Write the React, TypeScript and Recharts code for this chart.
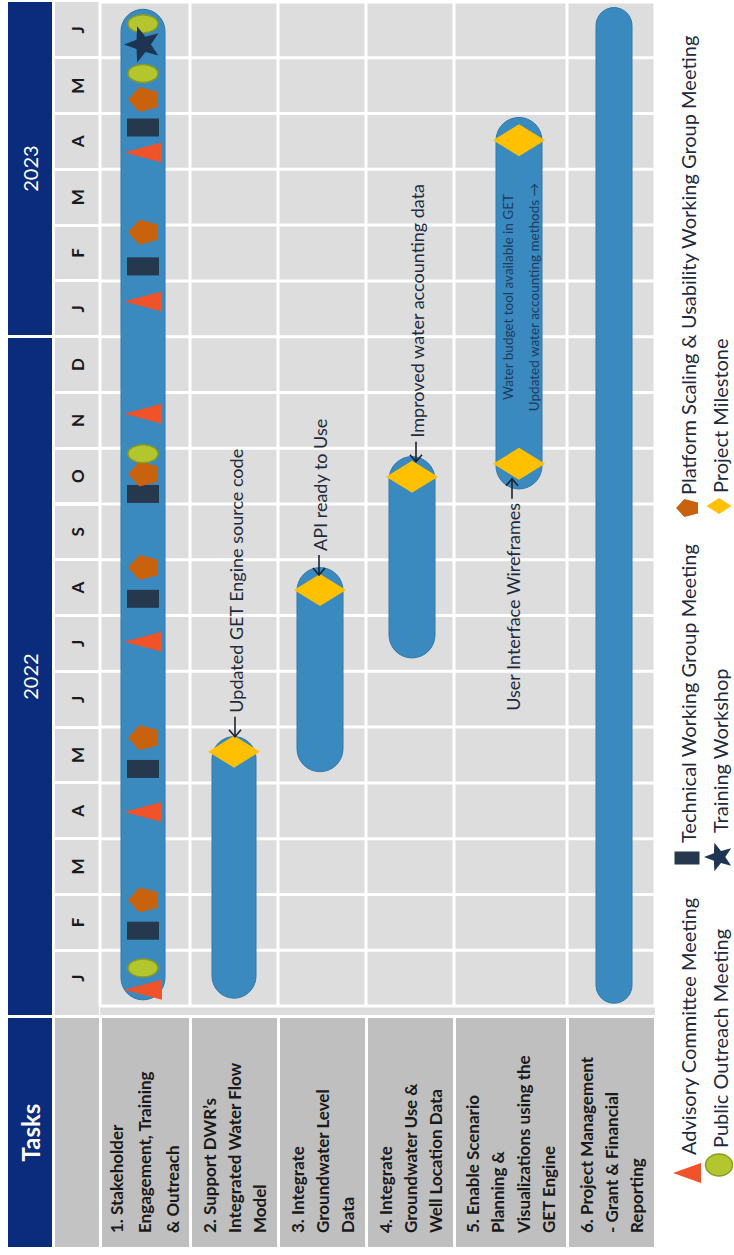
import React from 'react';
import { ComposedChart, Bar, Scatter, XAxis, YAxis, CartesianGrid } from 'recharts';

// ---------------- data ----------------
const months = ['J', 'F', 'M', 'A', 'M', 'J', 'J', 'A', 'S', 'O', 'N', 'D', 'J', 'F', 'M', 'A', 'M', 'J'];
const years = ['2022', '2023'];
const yearMonthCounts = [12, 6];
const taskLabelLines = [
  ['1. Stakeholder', 'Engagement, Training', '& Outreach'],
  ['2. Support DWR\u2019s', 'Integrated Water Flow', 'Model'],
  ['3. Integrate', 'Groundwater Level', 'Data'],
  ['4. Integrate', 'Groundwater Use &', 'Well Location Data'],
  ['5. Enable Scenario', 'Planning &', 'Visualizations using the', 'GET Engine'],
  ['6. Project Management', '- Grant & Financial', 'Reporting'],
];
// bar extents in months since Jan 2022
const barStart = [0.11, 0.14, 4.2, 6.24, 9.27, 0.05];
const barEnd = [17.87, 4.83, 7.86, 9.85, 15.93, 17.9];

// task 1 meetings (months since Jan 2022)
const advisoryMonths = [0.29, 3.48, 6.53, 10.62, 12.63, 15.3];
const technicalMonths = [1.35, 4.25, 7.3, 9.18, 13.26, 15.75];
const platformMonths = [1.9, 4.81, 7.86, 9.54, 13.87, 16.25];
const outreachMonths = [0.68, 9.9, 16.72, 17.61];
const trainingMonths = [17.24];

// milestones
const milestoneTasks = [1, 2, 3, 4, 4];
const milestoneMonths = [4.56, 7.46, 9.49, 9.72, 15.52];

// milestone annotations
const annotationTasks = [1, 2, 3, 4];
const annotationMonths = [4.56, 7.46, 9.49, 9.72];
const annotationTexts = ['Updated GET Engine source code', 'API ready to Use', 'Improved water accounting data', 'User Interface Wireframes'];
const annotationSides = ['right', 'right', 'right', 'left'];

// text written inside the task 5 bar
const innerNoteTask = 4;
const innerNoteMonth = 12.71;
const innerNoteLines = ['Water budget tool available in GET', 'Updated water accounting methods \u2192'];

const legendNames = [
  'Advisory Committee Meeting',
  'Technical Working Group Meeting',
  'Platform Scaling & Usability Working Group Meeting',
  'Public Outreach Meeting',
  'Training Workshop',
  'Project Milestone',
];
const legendKinds = ['triangle', 'rect', 'pentagon', 'ellipse', 'star', 'diamond'];

// ---------------- layout & style ----------------
const W = 1255;
const H = 734;
const PLOT_L = 249;
const PLOT_R = 1253;
const PLOT_T = 100;
const PLOT_B = 655;
const MONTH_W = (PLOT_R - PLOT_L) / months.length;
const rowHeights = [90, 88, 88, 88, 113, 88];
const rowEdges = rowHeights.reduce<number[]>((a, h) => [...a, a[a.length - 1] + h], [0]);
const barOffset = [-2, 0, -2, 2, 8.5, 3];
const laneY = (i: number) => (rowEdges[i] + rowEdges[i + 1]) / 2 + barOffset[i];
const rowLineHeights = [28, 25, 25, 25, 25.5, 25];
const barThickness = [44, 44, 46, 46, 46, 36];
const annotationDy = [1, -1, 4, -7];

const FONT = 'Lato, "Open Sans", sans-serif';
const NAVY = '#0b2b7c';
const BAR = '#3a8ac0';
const TEXT = '#1f2a3c';

const COLORS: Record<string, string> = {
  triangle: '#f0522a',
  rect: '#25384d',
  pentagon: '#c8620d',
  ellipse: '#b3c62d',
  star: '#1d3452',
  diamond: '#ffc000',
};
const CHART_SIZE: Record<string, [number, number]> = {
  triangle: [20, 38],
  rect: [18, 32],
  pentagon: [25, 30],
  ellipse: [18, 30],
  star: [38, 38],
  diamond: [32, 52],
};
const LEGEND_SIZE: Record<string, [number, number]> = {
  triangle: [20, 28],
  rect: [13, 25],
  pentagon: [18, 22],
  ellipse: [22, 27],
  star: [30, 30],
  diamond: [16, 25],
};

function marker(kind: string, cx: number, cy: number, w: number, h: number, key?: string) {
  const fill = COLORS[kind];
  if (kind === 'triangle') {
    return <polygon key={key} points={`${cx},${cy - h / 2} ${cx + w / 2},${cy + h / 2} ${cx - w / 2},${cy + h / 2}`} fill={fill} />;
  }
  if (kind === 'rect') {
    return <rect key={key} x={cx - w / 2} y={cy - h / 2} width={w} height={h} fill={fill} />;
  }
  if (kind === 'pentagon') {
    const pts = [
      [cx, cy - h / 2],
      [cx + w / 2, cy - h / 2 + 0.38 * h],
      [cx + w * 0.31, cy + h / 2],
      [cx - w * 0.31, cy + h / 2],
      [cx - w / 2, cy - h / 2 + 0.38 * h],
    ];
    return <polygon key={key} points={pts.map((p) => p.join(',')).join(' ')} fill={fill} />;
  }
  if (kind === 'ellipse') {
    return <ellipse key={key} cx={cx} cy={cy} rx={w / 2} ry={h / 2} fill={fill} stroke="#8a9c22" strokeWidth={1.5} />;
  }
  if (kind === 'star') {
    const R = w / 2;
    const r = R * 0.42;
    const pts: string[] = [];
    for (let k = 0; k < 10; k++) {
      const a = -Math.PI / 2 + (k * Math.PI) / 5;
      const rad = k % 2 === 0 ? R : r;
      pts.push(`${cx + rad * Math.cos(a)},${cy + rad * Math.sin(a)}`);
    }
    return <polygon key={key} points={pts.join(' ')} fill={fill} />;
  }
  // diamond
  return <polygon key={key} points={`${cx},${cy - h / 2} ${cx + w / 2},${cy} ${cx},${cy + h / 2} ${cx - w / 2},${cy}`} fill={fill} />;
}

const shapeOf = (kind: string) => (props: any) => {
  const { cx, cy } = props;
  if (cx == null || cy == null) return <g />;
  const [w, h] = CHART_SIZE[kind];
  return marker(kind, cx, cy, w, h);
};

const RoundedBar = (props: any) => {
  const { x, y, width, height } = props;
  const task = props.payload?.task ?? props.task ?? props.index ?? 0;
  const t = barThickness[task];
  const cy = y + height / 2;
  return <rect x={x} y={cy - t / 2} width={Math.max(width, t)} height={t} rx={t / 2} ry={t / 2} fill={BAR} stroke="#2f78aa" strokeWidth={1} />;
};

const AnnotationShape = (props: any) => {
  const { cx, payload } = props;
  if (cx == null || props.cy == null) return <g />;
  const cy = props.cy + payload.dy;
  const right = payload.side === 'right';
  const s = right ? 1 : -1;
  const head = cx + s * 15;
  const tail = cx + s * 35;
  const tx = cx + s * 39;
  return (
    <g>
      <line x1={tail} y1={cy} x2={head} y2={cy} stroke="#1b2233" strokeWidth={1.6} />
      <polyline points={`${head + s * 7},${cy - 6} ${head},${cy} ${head + s * 7},${cy + 6}`} fill="none" stroke="#1b2233" strokeWidth={1.6} />
      <text x={tx} y={cy + 1} dominantBaseline="central" textAnchor={right ? 'start' : 'end'} fontSize={18} fontFamily={FONT} fill={TEXT}>
        {payload.text}
      </text>
    </g>
  );
};

const InnerNoteShape = (props: any) => {
  const { cx, cy } = props;
  if (cx == null || cy == null) return <g />;
  return (
    <g>
      {innerNoteLines.map((l, i) => (
        <text key={i} x={cx} y={cy - 11 + i * 26} dominantBaseline="central" textAnchor="middle" fontSize={13.5} fontFamily={FONT} fill="#1c2f4a" opacity={0.85}>
          {l}
        </text>
      ))}
    </g>
  );
};

// chart tables built from the arrays
const barData = barStart.map((s, i) => ({ task: i, y: laneY(i), range: [s, barEnd[i]] }));
const task1 = (arr: number[]) => arr.map((m) => ({ m, y: laneY(0) }));
const milestoneData = milestoneTasks.map((t, i) => ({ m: milestoneMonths[i], y: laneY(t) }));
const annotationData = annotationTasks.map((t, i) => ({ m: annotationMonths[i], y: laneY(t), text: annotationTexts[i], side: annotationSides[i], dy: annotationDy[i] }));
const innerNoteData = [{ m: innerNoteMonth, y: laneY(innerNoteTask) }];

const monthEdgesPx = months.map((_, i) => PLOT_L + i * MONTH_W).concat([PLOT_R]);
const rowEdgesPx = rowEdges.map((e) => PLOT_T + e);

// legend layout
const legendX = [82, 397, 747, 90, 398, 749];
const legendTextX = [100, 412, 760, 107, 422, 762];
const legendRowY = [687, 719];

export default function App() {
  let acc = 0;
  const yearCells = years.map((yr, i) => {
    const startEdge = PLOT_L + acc * MONTH_W;
    acc += yearMonthCounts[i];
    const endEdge = PLOT_L + acc * MONTH_W;
    const left = i === 0 ? 240 : startEdge + 1.5;
    const right = i === years.length - 1 ? PLOT_R : endEdge - 1.5;
    return (
      <div key={yr} style={{ position: 'absolute', left, top: 8, width: right - left, height: 44, background: NAVY, color: '#fff', display: 'flex', alignItems: 'center', justifyContent: 'center', fontSize: 20 }}>
        {yr}
      </div>
    );
  });

  return (
    <div style={{ position: 'absolute', left: 0, top: 0, width: 734, height: 1255, overflow: 'hidden', background: '#fff' }}>
      <div style={{ position: 'absolute', left: 0, top: 0, width: W, height: H, transformOrigin: '0 0', transform: `translateY(${W}px) rotate(-90deg)`, fontFamily: FONT, background: '#fff' }}>
        {/* header row */}
        <div style={{ position: 'absolute', left: 8, top: 8, width: 229, height: 44, background: NAVY, color: '#fff', display: 'flex', alignItems: 'center', justifyContent: 'center', fontSize: 24, fontWeight: 700 }}>
          Tasks
        </div>
        {yearCells}
        {/* month row */}
        <div style={{ position: 'absolute', left: 8, top: 55, width: 229, height: 43.5, background: '#c3c3c3' }} />
        {months.map((_, i) => {
          const left = i === 0 ? 240 : monthEdgesPx[i] + 1.5;
          const right = i === months.length - 1 ? PLOT_R : monthEdgesPx[i + 1] - 1.5;
          return <div key={i} style={{ position: 'absolute', left, top: 55, width: right - left, height: 43.5, background: '#dcdcdc' }} />;
        })}
        {/* task label column */}
        {taskLabelLines.map((lines, i) => (
          <div
            key={i}
            style={{
              position: 'absolute',
              left: 8,
              top: PLOT_T + rowEdges[i] + 1.5,
              width: 229,
              height: rowHeights[i] - 3,
              background: '#bfbfbf',
              display: 'flex',
              flexDirection: 'column',
              justifyContent: 'center',
              paddingLeft: 14,
              boxSizing: 'border-box',
              fontSize: 17,
              fontWeight: 700,
              color: '#1a1a1a',
              lineHeight: `${rowLineHeights[i]}px`,
              whiteSpace: 'nowrap',
            }}
          >
            {lines.map((l, j) => (
              <div key={j}>{l}</div>
            ))}
          </div>
        ))}
        {/* plot background */}
        <div style={{ position: 'absolute', left: 240, top: PLOT_T, width: PLOT_R - 240, height: PLOT_B - PLOT_T, background: '#dddddd' }} />

        <div style={{ position: 'absolute', left: 0, top: 0 }}>
          <ComposedChart width={W} height={H} data={barData} layout="vertical" margin={{ top: 55, right: W - PLOT_R, bottom: H - PLOT_B, left: PLOT_L }}>
            <CartesianGrid verticalPoints={monthEdgesPx} horizontalPoints={rowEdgesPx} stroke="#ffffff" strokeWidth={3} fill="none" />
            <XAxis
              type="number"
              dataKey="m"
              domain={[0, months.length]}
              allowDataOverflow
              orientation="top"
              height={45}
              ticks={months.map((_, i) => i + 0.5)}
              interval={0}
              tickFormatter={(v: number) => months[Math.floor(v)]}
              axisLine={false}
              tickLine={false}
              tickSize={6}
              tickMargin={10}
              tick={{ fill: '#1a1a1a', fontSize: 17, fontWeight: 700, fontFamily: FONT }}
            />
            <YAxis type="number" dataKey="y" domain={[0, rowEdges[rowEdges.length - 1]]} hide allowDataOverflow />
            <Bar dataKey="range" barSize={44} shape={RoundedBar} isAnimationActive={false} />
            <Scatter name={legendNames[0]} data={task1(advisoryMonths)} shape={shapeOf('triangle')} isAnimationActive={false} />
            <Scatter name={legendNames[1]} data={task1(technicalMonths)} shape={shapeOf('rect')} isAnimationActive={false} />
            <Scatter name={legendNames[2]} data={task1(platformMonths)} shape={shapeOf('pentagon')} isAnimationActive={false} />
            <Scatter name={legendNames[3]} data={task1(outreachMonths)} shape={shapeOf('ellipse')} isAnimationActive={false} />
            <Scatter name={legendNames[4]} data={task1(trainingMonths)} shape={shapeOf('star')} isAnimationActive={false} />
            <Scatter name={legendNames[5]} data={milestoneData} shape={shapeOf('diamond')} isAnimationActive={false} />
            <Scatter data={annotationData} shape={AnnotationShape} isAnimationActive={false} />
            <Scatter data={innerNoteData} shape={InnerNoteShape} isAnimationActive={false} />
          </ComposedChart>
        </div>

        {/* legend */}
        <svg width={W} height={H} style={{ position: 'absolute', left: 0, top: 0, pointerEvents: 'none' }}>
          {legendNames.map((name, i) => {
            const row = i < 3 ? 0 : 1;
            const cy = legendRowY[row];
            const [w, h] = LEGEND_SIZE[legendKinds[i]];
            return (
              <g key={name}>
                {marker(legendKinds[i], legendX[i], cy, w, h)}
                <text x={legendTextX[i]} y={cy + 1} dominantBaseline="central" fontSize={20} fontFamily={FONT} fill={TEXT}>
                  {name}
                </text>
              </g>
            );
          })}
        </svg>
      </div>
    </div>
  );
}
